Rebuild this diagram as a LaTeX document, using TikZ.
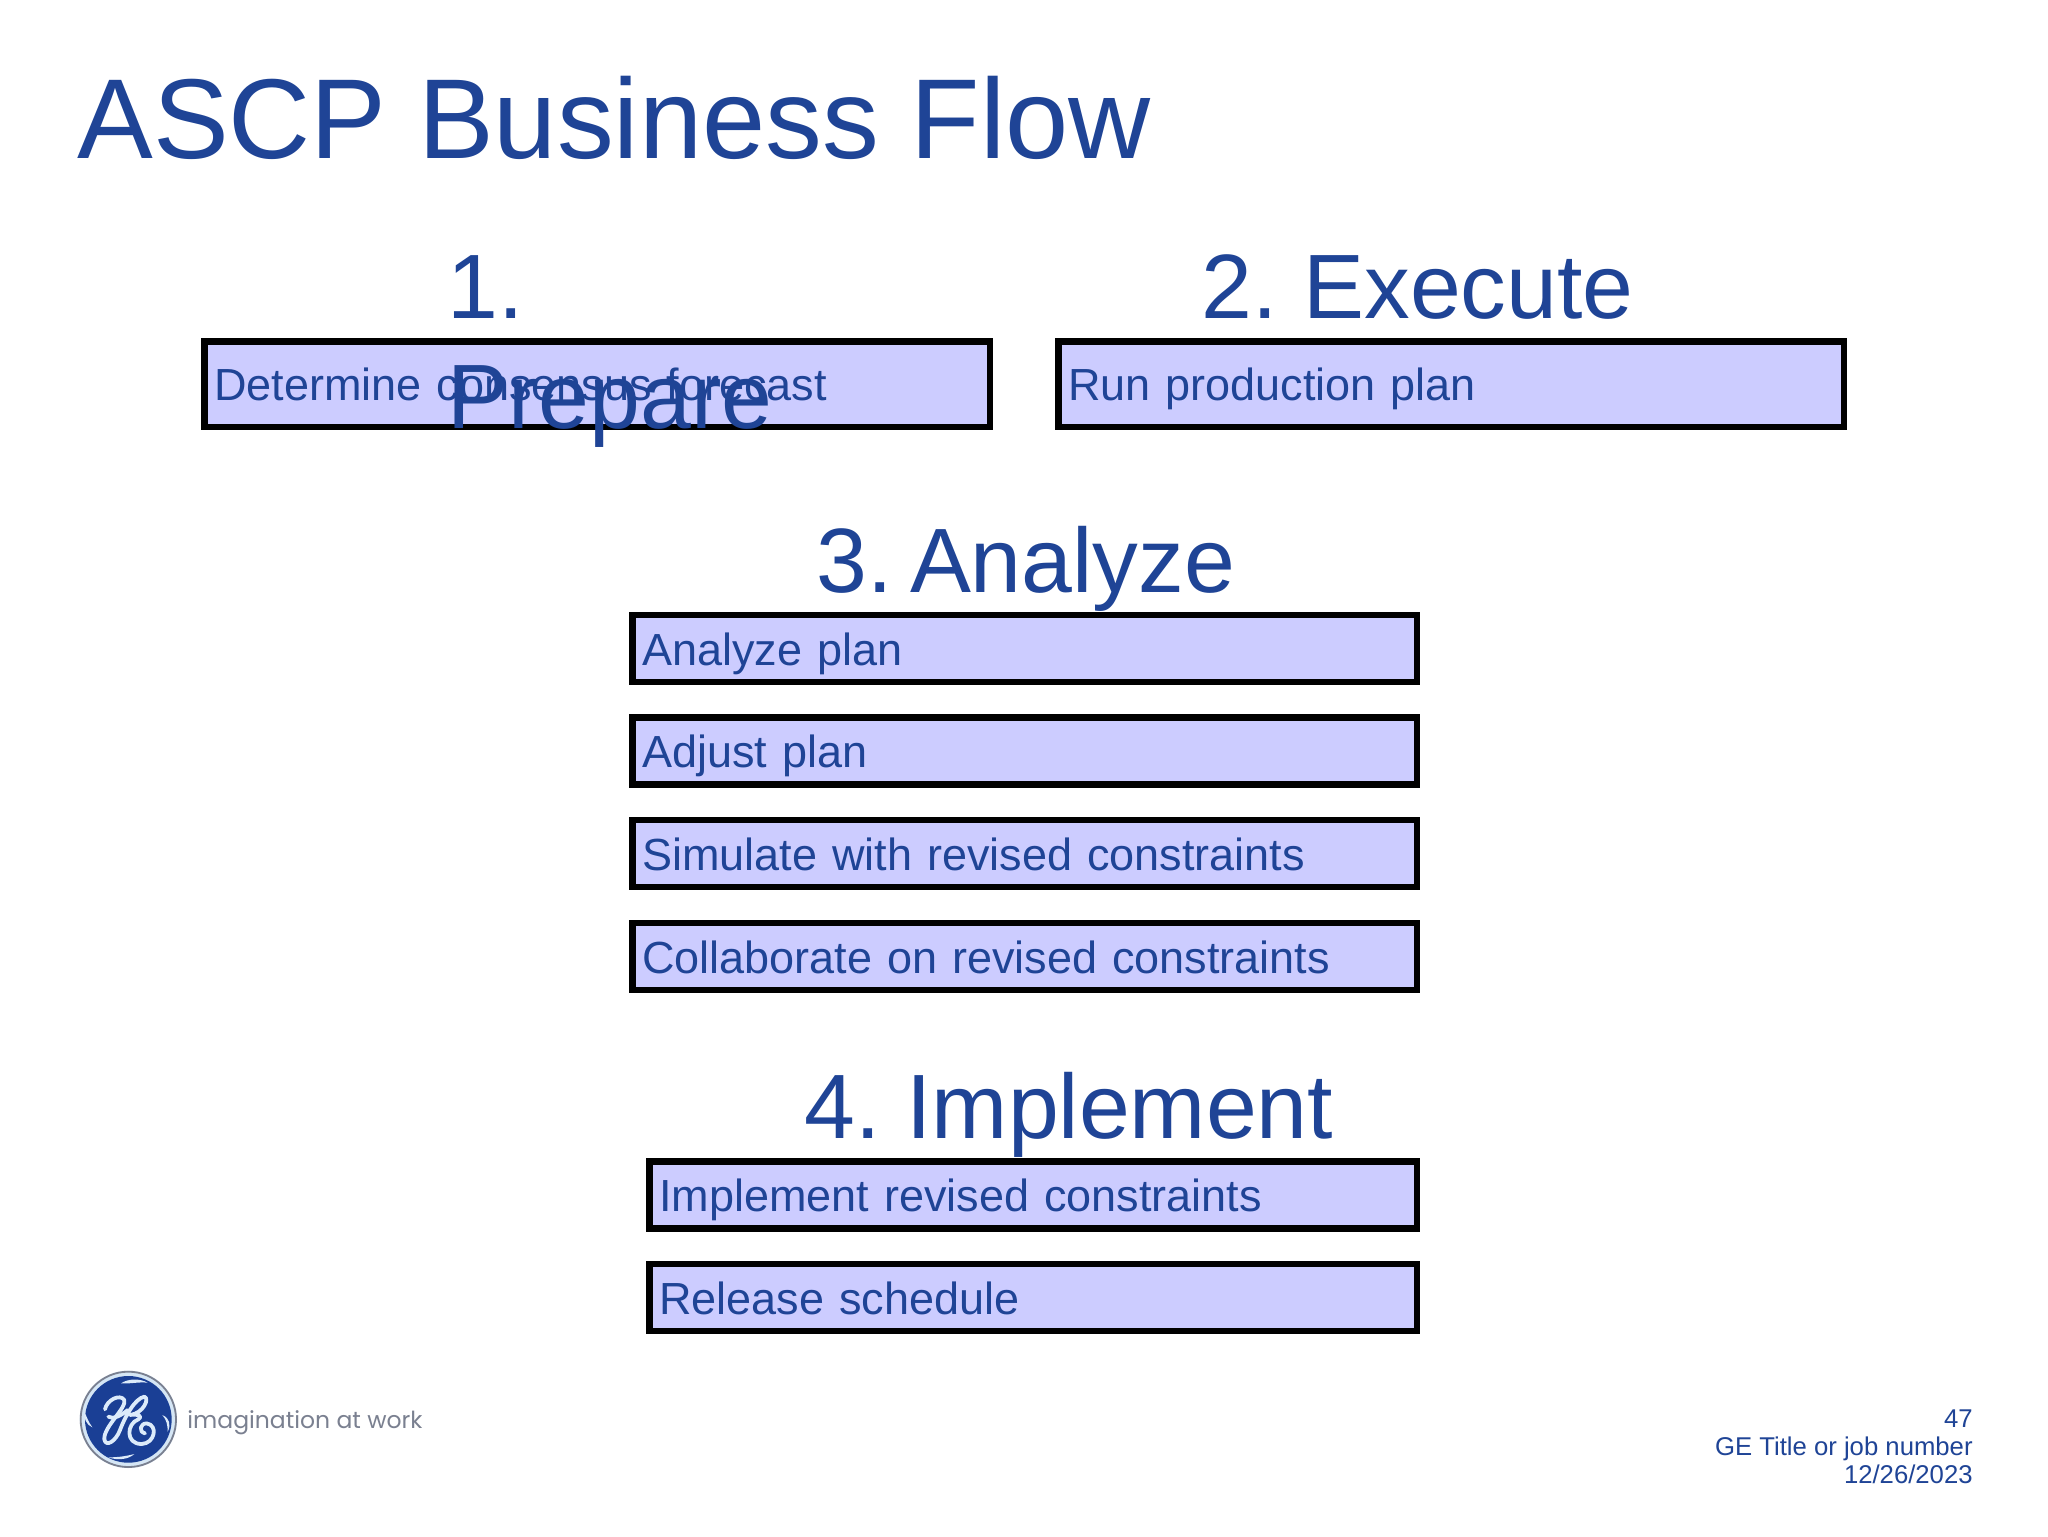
\documentclass[tikz,border=0pt]{standalone}
\usepackage{fontspec}
\setmainfont{Liberation Sans}
\newfontfamily\logofont{Poppins}
\definecolor{geblue}{HTML}{1F4496}
\definecolor{boxfill}{HTML}{CCCCFF}
\definecolor{logoblue}{HTML}{1A3F95}
\definecolor{logogray}{HTML}{7A8090}
\definecolor{logoring}{HTML}{D5E6F5}
\definecolor{logostroke}{HTML}{DCEBFA}
\tikzset{
  flowbox/.style={draw=black,fill=boxfill,line width=3.25pt,rectangle,inner xsep=0pt,inner ysep=0pt,
    text=geblue,align=left,font=\fontsize{22.5}{27}\selectfont,text height=16.8pt,text depth=0pt,outer sep=0pt},
  wide/.style={flowbox,minimum width=392.75pt,text width=383pt,minimum height=42.75pt},
  mid/.style={flowbox,minimum width=392.25pt,text width=382.25pt,minimum height=33.5pt},
  short/.style={flowbox,minimum width=383.75pt,text width=373.75pt,minimum height=33.5pt},
  heading/.style={anchor=base west,inner sep=0pt,text=geblue,font=\fontsize{45.7}{55}\selectfont},
  footline/.style={anchor=base east,inner sep=0pt,text=geblue,font=\fontsize{12.85}{16}\selectfont},
  swirl/.style={logostroke,line cap=round,line join=round,line width=1.9pt},
}
\begin{document}
\frenchspacing
\begin{tikzpicture}[x=0.5pt,y=-0.5pt]
\useasboundingbox (0,0) rectangle (2048,1536);
\fill[white] (0,0) rectangle (2048,1536);
\node[anchor=base west,inner sep=0pt,text=geblue,font=\fontsize{56.8}{60}\selectfont] (title) at (77,158) {ASCP Business Flow};

% boxes
\node[wide] (b1) at (597,384) {Determine consensus forecast};
\node[wide] (b2) at (1451,384) {Run production plan};
\node[mid] (c1) at (1024.5,648.5) {Analyze plan};
\node[mid] (c2) at (1024.5,751) {Adjust plan};
\node[mid] (c3) at (1024.5,853.5) {Simulate with revised constraints};
\node[mid] (c4) at (1024.5,956.5) {Collaborate on revised constraints};
\node[short] (d1) at (1033,1195) {Implement revised constraints};
\node[short] (d2) at (1033,1297.5) {Release schedule};

% headings
\node[heading] (h1a) at (447,318.5) {1.};
\node[heading] (h1b) at (447,428) {Prepare};
\node[heading] (h2) at (1201.5,318.5) {2. Execute};
\node[heading] (h3) at (816,592.5) {3. \kern-4pt Analyze};
\node[heading] (h4) at (804.5,1138.5) {4. Implement};

% footer
\node[footline] (f1) at (1973,1427) {47};
\node[footline] (f2) at (1973,1455) {GE Title or job number};
\node[footline] (f3) at (1973,1483) {12/26/2023};

% logo
\begin{scope}[shift={(75,1370)},x=0.1667pt,y=-0.1667pt]
  \fill[logoring] (160,148) circle[radius=146];
  \draw[logogray,line width=0.9pt] (160,148) circle[radius=143];
  \fill[logoblue] (160,148) circle[radius=130];
  \draw[swirl] (90,118) .. controls (95,90) and (135,70) .. (148,90)
     .. controls (155,115) and (85,170) .. (88,208)
     .. controls (92,232) and (122,215) .. (135,180)
     .. controls (150,140) and (180,85) .. (208,80)
     .. controls (225,85) and (205,130) .. (165,135)
     .. controls (190,130) and (205,140) .. (190,148)
     .. controls (155,160) and (150,222) .. (200,222)
     .. controls (240,220) and (250,165) .. (215,160)
     .. controls (195,160) and (190,185) .. (210,190);
  \draw[swirl] (100,140) .. controls (115,150) and (140,135) .. (158,120);
  \fill[logostroke] (138,40) .. controls (160,25) and (195,25) .. (218,38) .. controls (190,35) and (165,42) .. (138,40) -- cycle;
  \fill[logostroke] (28,125) .. controls (25,145) and (35,165) .. (52,172) .. controls (40,155) and (35,140) .. (28,125) -- cycle;
  \fill[logostroke] (262,135) .. controls (285,145) and (288,165) .. (278,185) .. controls (278,165) and (275,150) .. (262,135) -- cycle;
  \fill[logostroke] (100,262) .. controls (130,272) and (160,268) .. (178,252) .. controls (155,258) and (130,262) .. (100,262) -- cycle;
\end{scope}
\node[anchor=base west,inner sep=0pt,text=logogray,font=\logofont\fontsize{11.75}{16}\selectfont] (logotext) at (187,1428) {imagination at work};
\end{tikzpicture}
\end{document}
